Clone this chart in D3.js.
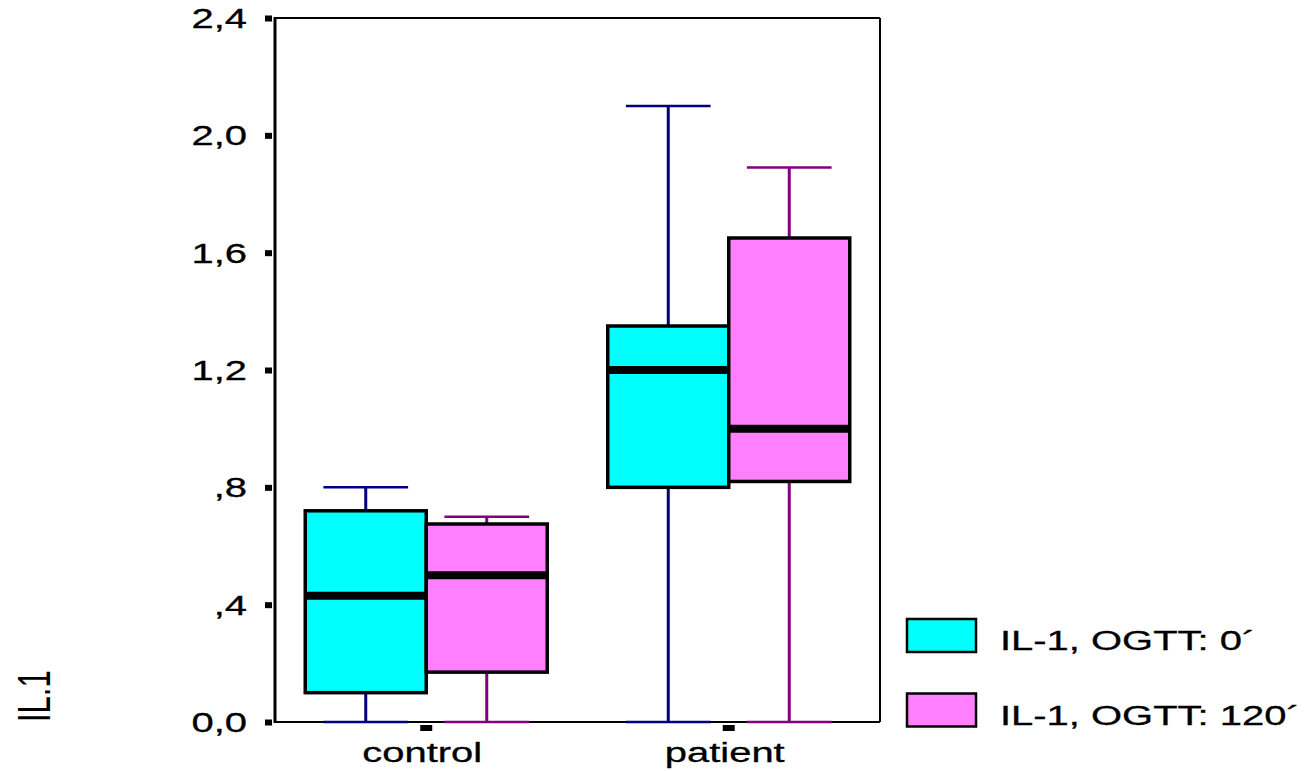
<!DOCTYPE html>
<html>
<head>
<meta charset="utf-8">
<script src="https://cdn.jsdelivr.net/npm/d3@7"></script>
<style>
  html, body { margin: 0; padding: 0; background: #fff; }
  svg { display: block; font-family: Arial, "Liberation Sans", sans-serif; }
</style>
</head>
<body>
<svg id="chart" width="1307" height="771"></svg>
<script>
// Groups on the x axis and the two measurement series
const categories = ["control", "patient"];
const seriesNames = ["IL-1, OGTT: 0´", "IL-1, OGTT: 120´"];
const yTicks = [0, 0.4, 0.8, 1.2, 1.6, 2.0, 2.4];
const yTickLabels = ["0,0", ",4", ",8", "1,2", "1,6", "2,0", "2,4"];
const yTitle = "IL.1";

// Box statistics, one entry per category, for each series
const minOGTT0    = [0.00, 0.00];
const q1OGTT0     = [0.10, 0.80];
const medianOGTT0 = [0.43, 1.20];
const q3OGTT0     = [0.72, 1.35];
const maxOGTT0    = [0.80, 2.10];

const minOGTT120    = [0.00, 0.00];
const q1OGTT120     = [0.17, 0.82];
const medianOGTT120 = [0.50, 1.00];
const q3OGTT120     = [0.675, 1.65];
const maxOGTT120    = [0.70, 1.89];

const fills = ["#00ffff", "#ff80ff"];
const whiskerColors = ["#000080", "#800080"];
const textStretch = 1.48;

const stats = [
  { min: minOGTT0, q1: q1OGTT0, med: medianOGTT0, q3: q3OGTT0, max: maxOGTT0 },
  { min: minOGTT120, q1: q1OGTT120, med: medianOGTT120, q3: q3OGTT120, max: maxOGTT120 }
];

const boxes = [];
categories.forEach((c, ci) => {
  seriesNames.forEach((s, si) => {
    const st = stats[si];
    boxes.push({ cat: c, series: s, si,
      min: st.min[ci], q1: st.q1[ci], med: st.med[ci], q3: st.q3[ci], max: st.max[ci] });
  });
});

const svg = d3.select("#chart");
const plot = { left: 275, right: 880, top: 18, bottom: 722 };

const x = d3.scaleBand().domain(categories).range([plot.left, plot.right]).padding(0);
const xs = d3.scaleBand().domain(seriesNames).range([0, x.bandwidth()])
  .paddingInner(0).paddingOuter(0.25);
const y = d3.scaleLinear().domain([0, 2.4]).range([plot.bottom, plot.top]);

// Frame around the plot area
const frame = svg.append("g");
frame.append("line").attr("x1", plot.left).attr("x2", plot.left)
  .attr("y1", plot.top - 1).attr("y2", plot.bottom + 1)
  .attr("stroke", "#000").attr("stroke-width", 3);
frame.append("line").attr("x1", plot.left).attr("x2", plot.right)
  .attr("y1", plot.top).attr("y2", plot.top)
  .attr("stroke", "#000").attr("stroke-width", 2);
frame.append("line").attr("x1", plot.right).attr("x2", plot.right)
  .attr("y1", plot.top).attr("y2", plot.bottom)
  .attr("stroke", "#000").attr("stroke-width", 2);
frame.append("line").attr("x1", plot.left).attr("x2", plot.right)
  .attr("y1", plot.bottom).attr("y2", plot.bottom)
  .attr("stroke", "#000").attr("stroke-width", 2);

// Y axis: short heavy tick marks and comma-decimal labels
const yAxis = svg.append("g")
  .attr("transform", `translate(${plot.left},0)`)
  .call(d3.axisLeft(y).tickValues(yTicks)
    .tickFormat((d, i) => yTickLabels[i]).tickSize(9).tickPadding(0));
yAxis.select(".domain").remove();
yAxis.selectAll(".tick line")
  .attr("x1", -3).attr("x2", -10)
  .attr("stroke", "#000").attr("stroke-width", 6);
yAxis.selectAll(".tick text")
  .attr("x", 0).attr("dy", "0.35em")
  .attr("transform", `translate(-28,0) scale(${textStretch},1)`)
  .attr("text-anchor", "end")
  .attr("fill", "#000")
  .attr("stroke", "#000").attr("stroke-width", 0.3)
  .style("font-size", "27px");

// X axis: category ticks below the frame and group names
const xAxis = svg.append("g")
  .attr("transform", `translate(0,${plot.bottom})`)
  .call(d3.axisBottom(x).tickSize(0).tickPadding(0));
xAxis.select(".domain").remove();
xAxis.selectAll(".tick line").remove();
xAxis.selectAll(".tick").append("rect")
  .attr("x", -6).attr("y", 3).attr("width", 12).attr("height", 6)
  .attr("fill", "#000");
xAxis.selectAll(".tick text")
  .attr("y", 0).attr("dy", 0)
  .attr("transform", `translate(-4,40) scale(${textStretch},1)`)
  .attr("text-anchor", "middle")
  .attr("fill", "#000")
  .attr("stroke", "#000").attr("stroke-width", 0.3)
  .style("font-size", "27px");

// Box plots
const g = svg.append("g");
const item = g.selectAll("g.box").data(boxes).join("g")
  .attr("class", "box")
  .attr("transform", d => `translate(${x(d.cat) + xs(d.series)},0)`);

const bw = xs.bandwidth();
const capW = bw * 0.7;

// whiskers
item.append("line")
  .attr("x1", bw / 2).attr("x2", bw / 2)
  .attr("y1", d => y(d.q3)).attr("y2", d => y(d.max))
  .attr("stroke", d => whiskerColors[d.si]).attr("stroke-width", 3);
item.append("line")
  .attr("x1", bw / 2).attr("x2", bw / 2)
  .attr("y1", d => y(d.q1)).attr("y2", d => y(d.min))
  .attr("stroke", d => whiskerColors[d.si]).attr("stroke-width", 3);
item.append("line")
  .attr("x1", (bw - capW) / 2).attr("x2", (bw + capW) / 2)
  .attr("y1", d => y(d.max)).attr("y2", d => y(d.max))
  .attr("stroke", d => whiskerColors[d.si]).attr("stroke-width", 2.5);
item.append("line")
  .attr("x1", (bw - capW) / 2).attr("x2", (bw + capW) / 2)
  .attr("y1", d => y(d.min)).attr("y2", d => y(d.min))
  .attr("stroke", d => whiskerColors[d.si]).attr("stroke-width", 2.5);

// interquartile box
item.append("rect")
  .attr("x", 0).attr("width", bw)
  .attr("y", d => y(d.q3)).attr("height", d => y(d.q1) - y(d.q3))
  .attr("fill", d => fills[d.si])
  .attr("stroke", "#000").attr("stroke-width", 3.5);

// median bar
item.append("line")
  .attr("x1", 0).attr("x2", bw)
  .attr("y1", d => y(d.med)).attr("y2", d => y(d.med))
  .attr("stroke", "#000").attr("stroke-width", 8);

// Legend
const legend = svg.append("g").attr("transform", "translate(907,619)");
const li = legend.selectAll("g").data(seriesNames).join("g")
  .attr("transform", (d, i) => `translate(0,${i * 74.5})`);
li.append("rect")
  .attr("width", 69).attr("height", 33)
  .attr("fill", (d, i) => fills[i])
  .attr("stroke", "#000").attr("stroke-width", 2.5);
li.append("text")
  .attr("transform", `translate(93,31) scale(${textStretch},1)`)
  .attr("fill", "#000")
  .attr("stroke", "#000").attr("stroke-width", 0.3)
  .style("font-size", "27px")
  .text(d => d);

// Y axis title, rotated
svg.append("text")
  .attr("transform", `translate(50,722) scale(${textStretch},1) rotate(-90)`)
  .attr("fill", "#000")
  .style("font-size", "31px")
  .text(yTitle);
</script>
</body>
</html>
